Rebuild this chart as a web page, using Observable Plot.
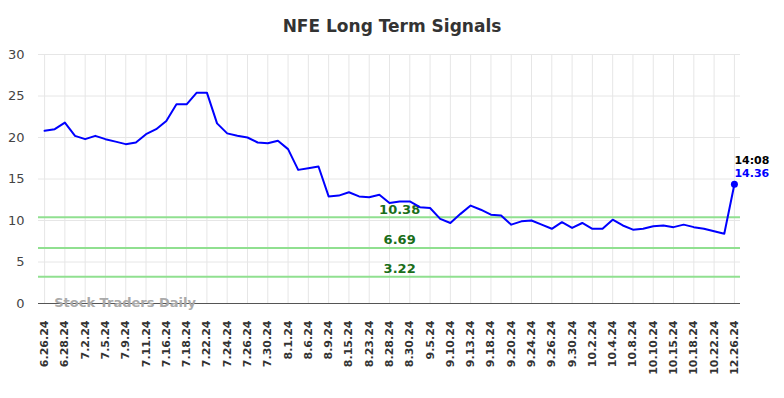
<!DOCTYPE html>
<html>
<head>
<meta charset="utf-8">
<script src="https://cdn.jsdelivr.net/npm/d3@7"></script>
<script src="https://cdn.jsdelivr.net/npm/@observablehq/plot@0.6"></script>
<style>
  body { margin: 0; background: #fff; font-family: "DejaVu Sans", sans-serif; }
  #title { height: 40px; line-height: 52px; text-align: center; font-size: 17px; font-weight: bold; color: #333; width: 784px; }
</style>
</head>
<body>
<div id="title">NFE Long Term Signals</div>
<div id="chart"></div>
<script>
const tickLabels = ["6.26.24","6.28.24","7.2.24","7.5.24","7.9.24","7.11.24","7.16.24","7.18.24","7.22.24","7.24.24","7.26.24","7.30.24","8.1.24","8.6.24","8.9.24","8.15.24","8.23.24","8.28.24","8.30.24","9.5.24","9.10.24","9.13.24","9.18.24","9.20.24","9.24.24","9.26.24","9.30.24","10.2.24","10.4.24","10.8.24","10.10.24","10.15.24","10.18.24","10.22.24","12.26.24"];
const prices = [20.8,21.0,21.8,20.2,19.8,20.2,19.8,19.5,19.2,19.4,20.4,21.0,22.0,24.0,24.0,25.4,25.4,21.7,20.5,20.2,20.0,19.4,19.3,19.6,18.6,16.1,16.3,16.5,12.9,13.0,13.4,12.9,12.8,13.1,12.1,12.3,12.3,11.6,11.5,10.2,9.7,10.8,11.8,11.3,10.7,10.6,9.5,9.9,10.0,9.5,9.0,9.8,9.1,9.7,9.0,9.0,10.1,9.4,8.9,9.0,9.3,9.4,9.2,9.5,9.2,9.0,8.7,8.4,14.36];
const signalLevels = [10.38, 6.69, 3.22];
const lastTime = "14:08";
const watermark = "Stock Traders Daily";

const series = prices.map((v, i) => ({i, v}));
const last = series[series.length - 1];
const tickIdx = tickLabels.map((_, k) => k * 2);

const chart = Plot.plot({
  width: 784,
  height: 358,
  marginLeft: 38,
  marginRight: 44,
  marginTop: 14,
  marginBottom: 95,
  style: {fontFamily: "DejaVu Sans, sans-serif", background: "#fff"},
  x: {type: "linear", domain: [-0.6, 68.6], axis: null},
  y: {domain: [0, 30], axis: null},
  marks: [
    Plot.gridX(tickIdx, {stroke: "#e6e6e6", strokeOpacity: 1}),
    Plot.gridY([0,5,10,15,20,25,30], {stroke: "#e6e6e6", strokeOpacity: 1}),
    Plot.axisY([0,5,10,15,20,25,30], {label: null, tickSize: 0, tickPadding: 14, fontSize: 13, fill: "#444"}),
    Plot.axisX(tickIdx, {label: null, tickSize: 0, tickPadding: 17, tickRotate: -90, fontSize: 11, fontWeight: "bold", fill: "#333",
      tickFormat: d => tickLabels[d / 2]}),
    Plot.ruleY(signalLevels, {stroke: "#90e090", strokeWidth: 2}),
    Plot.text(signalLevels, {x: 35, y: d => d, text: d => d.toFixed(2), dy: -8, fill: "#1a6e1a", fontSize: 13, fontWeight: "bold"}),
    Plot.ruleY([0], {stroke: "#555", strokeWidth: 1.2}),
    Plot.text([watermark], {x: 0.95, y: 0, text: d => d, textAnchor: "start", fill: "#aaa", fontSize: 13, fontWeight: "bold", dy: -1}),
    Plot.line(series, {x: "i", y: "v", stroke: "#0000ff", strokeWidth: 2}),
    Plot.dot([last], {x: "i", y: "v", r: 3.5, fill: "#0000ff"}),
    Plot.text([last], {x: "i", y: "v", text: () => lastTime, textAnchor: "start", dy: -24, fontSize: 11, fontWeight: "bold", fill: "#000"}),
    Plot.text([last], {x: "i", y: "v", text: d => d.v.toFixed(2), textAnchor: "start", dy: -11, fontSize: 11, fontWeight: "bold", fill: "#0000ff"})
  ]
});
document.getElementById("chart").appendChild(chart);
</script>
</body>
</html>
